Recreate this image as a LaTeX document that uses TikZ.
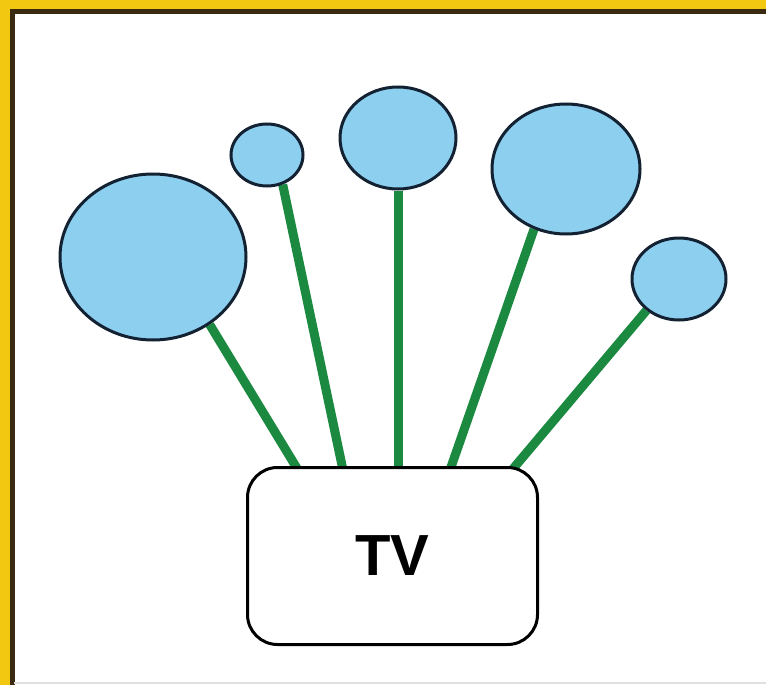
\documentclass[tikz,border=0pt]{standalone}
\usepackage{fontspec}
\setmainfont{Liberation Sans}
\usetikzlibrary{shapes.geometric}
\definecolor{frameyellow}{HTML}{F2C811}
\definecolor{framedark}{HTML}{3A2A12}
\definecolor{bubblefill}{HTML}{8DCFEF}
\definecolor{bubbleline}{HTML}{132232}
\definecolor{stemgreen}{HTML}{1B8A40}
\pgfdeclarelayer{background}
\pgfsetlayers{background,main}
\tikzset{
  bubble/.style={ellipse, draw=bubbleline, line width=3pt, fill=bubblefill, inner sep=0pt},
  stem/.style={draw=stemgreen, line width=9pt},
  tvbox/.style={draw=black, line width=3pt, rounded corners=30pt, fill=white, inner sep=0pt,
    minimum width=290pt, minimum height=177pt, font=\fontsize{58}{60}\selectfont\bfseries}
}
\begin{document}
\begin{tikzpicture}[x=1pt,y=-1pt]
\useasboundingbox (0,0) rectangle (766,685);
\begin{pgfonlayer}{background}
\fill[white] (0,0) rectangle (766,685);
\end{pgfonlayer}
% frame
\fill[frameyellow] (0,0) rectangle (766,10);
\fill[frameyellow] (0,0) rectangle (10,685);
\draw[framedark, line width=4.5pt] (12.5,685) -- (12.5,11.5) -- (766,11.5);
\draw[black!12, line width=1.5pt] (14,683) -- (766,683);
% TV box
\node[tvbox] (tv) at (392.5,556) {TV};
% stem end points on top of TV
\coordinate (t1) at (298,470);
\coordinate (t2) at (343,470);
\coordinate (t3) at (398,470);
\coordinate (t4) at (450,470);
\coordinate (t5) at (512,470);
% bubbles
\node[bubble, minimum width=186pt, minimum height=166pt] (c1) at (153,257) {};
\node[bubble, minimum width=72pt, minimum height=62pt] (c2) at (267,155) {};
\node[bubble, minimum width=116pt, minimum height=102pt] (c3) at (398,138) {};
\node[bubble, minimum width=148pt, minimum height=130pt] (c4) at (566,169) {};
\node[bubble, minimum width=94pt, minimum height=82pt] (c5) at (679,279) {};
% stems
\begin{pgfonlayer}{background}
\draw[stem] (c1.-50) -- (t1);
\draw[stem] (c2.-62) -- (t2);
\draw[stem] (c3.-90) -- (t3);
\draw[stem] (c4.-118) -- (t4);
\draw[stem] (c5.-136) -- (t5);
\end{pgfonlayer}
\end{tikzpicture}
\end{document}
